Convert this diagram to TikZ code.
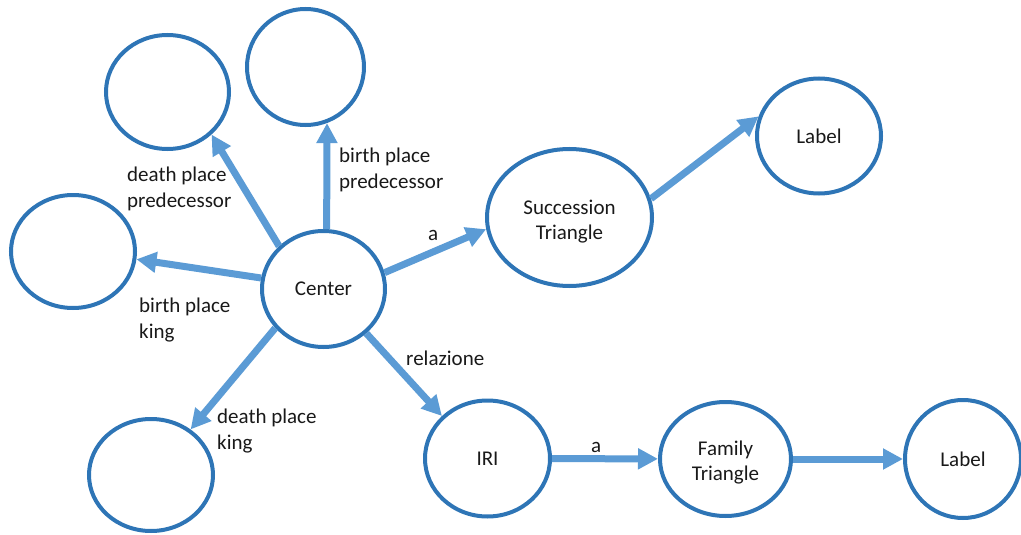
\documentclass[tikz,border=0pt]{standalone}
\usepackage{fontspec}
\setmainfont{Carlito}
\usetikzlibrary{arrows.meta,shapes.geometric}
\definecolor{ringblue}{RGB}{46,117,182}
\definecolor{linkblue}{RGB}{91,155,213}
\newcommand{\twoline}[2]{\begin{tabular}[t]{@{}l@{}}#1\\#2\end{tabular}}
\begin{document}
\begin{tikzpicture}[x=1pt,y=-1pt,
  every node/.style={font=\fontsize{21}{25}\selectfont, text=black!90},
  ring/.style={ellipse, draw=ringblue, line width=4pt, inner sep=0pt, align=center},
  link/.style={draw=linkblue, line width=7pt, -{Triangle[length=20pt,width=20pt]}},
  tag/.style={anchor=base west, inner sep=0pt, font=\fontsize{21}{26}\selectfont}]
\useasboundingbox (0,0) rectangle (1021,535);

% property nodes around the centre
\node[ring, minimum width=123pt, minimum height=114pt] (tl1) at (167.5,92) {};
\node[ring, minimum width=117pt, minimum height=116pt] (tl2) at (305.5,67) {};
\node[ring, minimum width=124pt, minimum height=113pt] (l)   at (73,251.5) {};
\node[ring, minimum width=124pt, minimum height=112pt] (bl)  at (151,475) {};
\node[ring, minimum width=123pt, minimum height=116pt] (c)   at (323.5,289) {Center};

% class nodes (the invisible rule lowers the two-line text a little)
\node[ring, minimum width=165pt, minimum height=137pt] (s)    at (569.5,217.5) {\rule{0pt}{22pt}Succession\\Triangle};
\node[ring, minimum width=124pt, minimum height=115pt] (lab1) at (819,136) {Label};
\node[ring, minimum width=125pt, minimum height=116pt] (iri)  at (487.5,458.5) {IRI};
\node[ring, minimum width=131pt, minimum height=114pt] (fam)  at (725.5,459) {\rule{0pt}{21pt}Family\\Triangle};
\node[ring, minimum width=116pt, minimum height=118pt] (lab2) at (963,459) {Label};

% connectors
\draw[link] (c.136)   -- (tl1.-44);
\draw[link] (c.87)    -- (tl2.-69);
\draw[link] (c.170)   -- (l.-7.5);
\draw[link] (c.219)   -- (bl.49.5);
\draw[link] (c.15)    -- (s.-172);
\draw[link] (s.13.6)  -- (lab1.162.7);
\draw[link] (c.-46.7) -- (iri.137.5);
\draw[link] (iri) -- (fam);
\draw[link] (fam) -- (lab2);

% edge labels
\node[tag] (t1) at (127,181) {\twoline{death place}{predecessor}};
\node[tag] (t2) at (339,162) {\twoline{birth place}{predecessor}};
\node[tag] (t3) at (428,240) {a};
\node[tag] (t4) at (139,312) {\twoline{birth place}{king}};
\node[tag] (t5) at (406,365) {relazione};
\node[tag] (t6) at (217,423) {\twoline{death place}{king}};
\node[tag] (t7) at (591,452) {a};
\end{tikzpicture}
\end{document}
